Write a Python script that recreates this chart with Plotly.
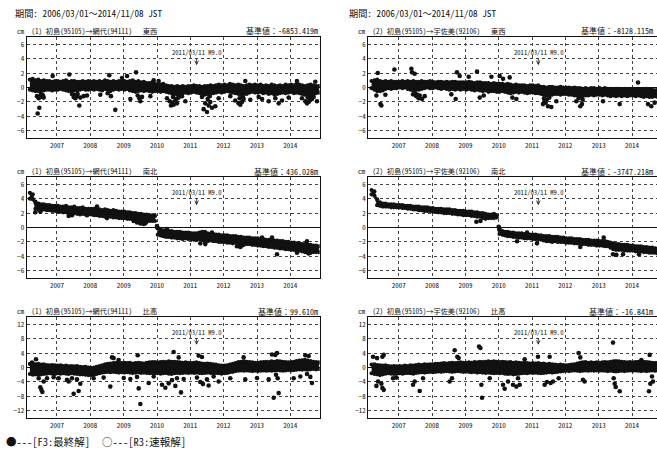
import pandas as pd
import plotly.graph_objects as go

# ---------------- data (cm) ----------------
MONTHS = pd.date_range("2006-03-01", "2014-11-01", freq="MS") + pd.Timedelta(days=9)

# (1) 初島→網代  東西
EW1_HI = [1.1, 1.2, 1.0, 1.1, 0.9, 1.0, 0.9, 0.9, 0.8, 0.9,
          0.9, 0.8, 0.9, 1.0, 0.8, 0.9, 0.9, 0.8, 0.8, 0.9, 0.8, 0.9,
          0.8, 0.9, 0.8, 0.9, 0.8, 1.0, 0.9, 0.8, 0.9, 0.8, 0.9, 0.8,
          0.9, 0.8, 0.9, 1.0, 0.8, 0.9, 0.7, 0.8, 0.6, 0.6, 0.7, 0.5,
          0.4, 0.4, 0.5, 0.3, 0.2, 0.2, 0.1, 0.2, 0.1, 0.2, 0.1, 0.2,
          0.2, 0.3, 0.2, 0.2, 0.1, 0.2, 0.2, 0.3, 0.2, 0.3, 0.4, 0.3,
          0.4, 0.3, 0.5, 0.4, 0.3, 0.4, 0.3, 0.2, 0.3, 0.4, 0.3, 0.4,
          0.3, 0.4, 0.2, 0.3, 0.2, 0.4, 0.3, 0.2, 0.3, 0.2, 0.4, 0.3,
          0.4, 0.3, 0.5, 0.4, 0.3, 0.2, 0.3, 0.4, 0.3, 0.2, 0.2]
EW1_LO = [-0.3, -0.4, -0.5, -0.5, -0.4, -0.4, -0.3, -0.3, -0.4, -0.3,
          -0.3, -0.2, -0.3, -0.4, -0.5, -0.5, -0.4, -0.4, -0.3, -0.2, -0.3, -0.3,
          -0.2, -0.3, -0.2, -0.3, -0.4, -0.2, -0.3, -0.5, -0.3, -0.2, -0.3, -0.2,
          -0.3, -0.2, -0.4, -0.5, -0.6, -0.5, -0.4, -0.5, -0.4, -0.5, -0.6, -0.5,
          -0.5, -0.6, -0.5, -0.6, -0.7, -0.8, -0.9, -1.0, -0.9, -0.8, -0.7, -0.8,
          -0.7, -0.6, -0.7, -0.8, -0.9, -1.0, -0.9, -0.9, -0.8, -0.7, -0.6, -0.7,
          -0.6, -0.5, -0.6, -0.7, -0.8, -0.9, -1.0, -0.9, -0.9, -0.7, -0.6, -0.7,
          -0.7, -0.6, -0.8, -0.7, -0.9, -0.8, -1.0, -0.9, -0.8, -0.7, -0.8, -0.7,
          -0.6, -0.8, -0.7, -0.8, -0.9, -1.0, -1.1, -1.0, -0.9, -0.8, -0.7]
EW1_OUT_YR = [2006.42, 2006.47, 2006.40, 2006.45, 2006.50, 2006.55, 2006.60, 2006.87, 2007.37, 2007.45,
              2007.50, 2007.55, 2007.60, 2007.67, 2007.70, 2007.80, 2007.90, 2008.30, 2008.52, 2008.57,
              2008.62, 2008.75, 2008.95, 2009.10, 2009.20, 2009.37, 2009.42, 2009.47, 2009.50, 2009.55,
              2009.80, 2009.90, 2010.05, 2010.30, 2010.38, 2010.42, 2010.45, 2010.50, 2010.55, 2010.60,
              2010.65, 2010.75, 2010.85, 2011.35, 2011.40, 2011.45, 2011.50, 2011.55, 2011.60, 2011.65,
              2011.75, 2011.85, 2012.20, 2012.35, 2012.45, 2012.50, 2012.55, 2012.60, 2012.65, 2012.80,
              2013.05, 2013.15, 2013.35, 2013.55, 2013.65, 2013.75, 2013.95, 2014.20, 2014.35, 2014.45,
              2014.50, 2014.55, 2014.60, 2014.70, 2014.75, 2014.80,
              2006.52, 2006.58, 2007.52, 2007.62, 2010.48, 2010.58, 2010.68, 2011.52, 2011.58, 2012.48,
              2012.58, 2014.52, 2014.58, 2014.65]
EW1_OUT_CM = [-3.6, -2.8, -1.2, -1.5, -1.3, -1.0, -1.4, 1.6, 1.8, -0.9,
              -1.3, -1.5, -1.2, -2.5, -1.4, -1.2, -1.1, -1.0, -0.8, 1.7,
              -1.2, -3.1, 1.3, 1.6, -1.6, 2.1, -1.1, -1.5, -1.9, -1.3,
              -1.2, 1.0, 0.9, -1.5, -1.9, -2.5, -2.1, -2.4, -1.8, -2.2,
              -1.4, -1.2, -1.9, -1.3, -3.0, -2.2, -3.4, -2.5, -2.0, -2.8,
              -2.6, -1.5, -1.2, -1.8, -2.2, -2.4, -2.0, -1.6, 0.9, -1.7,
              -1.3, -1.6, -1.9, -1.5, -2.2, -1.8, -1.4, 0.9, -1.5, -1.9,
              -2.2, -2.0, -1.7, -1.3, 0.8, -1.9,
              -0.9, -1.1, -1.0, -0.9, -1.3, -1.6, -1.1, -1.6, -1.2, -1.5,
              -1.3, -1.4, -1.2, -1.6]

# (1) 初島→網代  南北
NS1_HI = [4.8, 4.6, 3.6, 3.3, 3.2, 3.2, 3.1, 3.1, 3.0, 3.0,
          3.0, 2.9, 2.9, 3.0, 2.8, 2.8, 2.9, 2.7, 2.7, 2.8, 2.6, 2.6,
          2.6, 2.6, 2.5, 2.5, 2.4, 2.5, 2.4, 2.3, 2.4, 2.3, 2.2, 2.2,
          2.2, 2.1, 2.1, 2.0, 2.0, 1.9, 1.9, 1.8, 1.8, 1.7, 1.7, 1.6,
          -0.1, -0.3, -0.4, -0.4, -0.5, -0.5, -0.6, -0.6, -0.6, -0.7, -0.7, -0.7,
          -0.8, -0.8, -0.8, -0.7, -0.6, -0.6, -0.8, -0.9, -0.9, -1.0, -1.0, -1.1,
          -1.1, -1.1, -1.2, -1.2, -1.2, -1.3, -1.3, -1.4, -1.4, -1.4, -1.5, -1.5,
          -1.5, -1.6, -1.6, -1.7, -1.7, -1.7, -1.8, -1.8, -1.9, -1.9, -2.0, -2.0,
          -2.1, -2.1, -2.2, -2.2, -2.3, -2.3, -2.4, -2.4, -2.5, -2.5, -2.6]
NS1_LO = [4.0, 3.9, 2.6, 2.5, 2.4, 2.5, 2.4, 2.4, 2.3, 2.3,
          2.2, 2.2, 2.1, 2.1, 2.0, 1.9, 2.0, 1.9, 1.8, 1.9, 1.8, 1.8,
          1.8, 1.7, 1.7, 1.6, 1.6, 1.5, 1.6, 1.5, 1.4, 1.4, 1.3, 1.3,
          1.3, 1.2, 1.2, 1.1, 1.0, 1.0, 0.8, 0.7, 0.8, 0.9, 0.9, 0.9,
          -1.0, -1.1, -1.2, -1.3, -1.3, -1.4, -1.4, -1.5, -1.5, -1.6, -1.5, -1.6,
          -1.6, -1.7, -1.7, -1.6, -1.7, -2.0, -1.9, -1.8, -1.9, -1.9, -2.0, -2.0,
          -2.0, -2.1, -2.1, -2.2, -2.1, -2.3, -2.4, -2.4, -2.3, -2.3, -2.4, -2.4,
          -2.5, -2.5, -2.6, -2.6, -2.7, -2.7, -2.8, -2.8, -2.9, -2.9, -3.0, -3.0,
          -3.1, -3.1, -3.2, -3.2, -3.3, -3.4, -3.5, -3.3, -3.4, -3.4, -3.4]
NS1_OUT_YR = [2006.35, 2006.50, 2007.35, 2007.45, 2007.90, 2008.20, 2008.50, 2009.30, 2009.40, 2009.50,
              2009.60, 2009.65, 2010.00, 2010.02, 2010.30, 2011.30, 2011.45, 2011.65, 2012.40, 2012.50,
              2012.55, 2013.15, 2013.45, 2013.60, 2014.20, 2014.50, 2014.55, 2014.60]
NS1_OUT_CM = [2.1, 2.2, 1.6, 1.7, 1.7, 2.9, 1.3, 0.9, 0.7, 0.55,
              0.5, 0.6, 0.2, -0.1, -0.2, -2.2, -2.3, -0.7, -2.6, -2.7,
              -2.5, -1.4, -1.4, -3.7, -3.5, -1.9, -3.6, -3.5]

# (1) 初島→網代  比高
UD1_HI = [1.0, 1.2, 0.9, 1.0, 0.8, 0.9, 0.7, 0.6, 0.7, 0.6,
          0.5, 0.6, 0.4, 0.5, 0.3, 0.4, 0.3, 0.4, 0.2, 0.1, 0.2, 0.0,
          -0.1, 0.0, 0.2, 0.4, 0.6, 0.9, 1.0, 1.1, 1.2, 1.3, 1.2, 1.2,
          1.3, 1.2, 1.3, 1.1, 1.2, 1.3, 1.2, 1.1, 1.3, 1.4, 1.5, 1.5,
          1.4, 1.5, 1.6, 1.5, 1.7, 1.6, 1.6, 1.5, 1.4, 1.3, 1.4, 1.3,
          1.2, 1.3, 1.4, 1.2, 1.1, 1.0, 1.1, 1.0, 0.9, 0.8, 0.6, 0.5,
          0.5, 0.6, 0.8, 1.0, 1.2, 1.5, 1.6, 1.7, 1.6, 1.5, 1.4, 1.3,
          1.3, 1.4, 1.5, 1.6, 1.5, 1.7, 1.6, 1.8, 1.7, 1.6, 1.5, 1.4,
          1.5, 1.6, 1.8, 1.9, 2.0, 2.1, 1.9, 1.8, 1.6, 1.5, 1.4]
UD1_LO = [-1.8, -2.0, -1.9, -2.0, -1.9, -1.8, -1.7, -1.6, -1.7, -1.8,
          -1.6, -1.7, -1.6, -1.7, -1.8, -1.6, -1.7, -1.8, -1.9, -1.9, -2.0, -2.1,
          -2.1, -2.0, -1.8, -1.6, -1.4, -1.3, -1.2, -1.3, -1.2, -1.3, -1.4, -1.3,
          -1.4, -1.3, -1.4, -1.5, -1.4, -1.3, -1.5, -1.4, -1.5, -1.6, -1.5, -1.6,
          -1.6, -1.7, -1.6, -1.5, -1.7, -1.8, -1.6, -1.5, -1.6, -1.5, -1.4, -1.5,
          -1.4, -1.5, -1.4, -1.5, -1.6, -1.5, -1.4, -1.5, -1.6, -1.5, -1.6, -1.7,
          -1.6, -1.5, -1.3, -1.2, -1.0, -0.9, -0.8, -0.9, -0.8, -0.9, -1.0, -0.9,
          -1.0, -0.9, -0.8, -0.9, -0.8, -0.9, -0.8, -0.7, -0.8, -0.9, -0.8, -0.7,
          -0.8, -0.7, -0.6, -0.5, -0.6, -0.5, -0.6, -0.5, -0.4, -0.5, -0.4]
UD1_OUT_YR = [2006.25, 2006.37, 2006.50, 2006.53, 2006.56, 2006.60, 2006.45, 2006.70, 2006.90, 2007.05,
              2007.30, 2007.35, 2007.45, 2007.50, 2007.65, 2007.70, 2007.60, 2008.10, 2008.40, 2008.60,
              2008.65, 2008.70, 2008.85, 2009.00, 2009.20, 2009.42, 2009.45, 2009.50, 2009.40, 2009.75,
              2009.90, 2010.15, 2010.25, 2010.35, 2010.45, 2010.50, 2010.55, 2010.60, 2010.65, 2010.72,
              2010.80, 2011.20, 2011.25, 2011.30, 2011.35, 2011.38, 2011.50, 2011.55, 2011.70, 2011.85,
              2012.20, 2012.60, 2012.65, 2013.00, 2013.35, 2013.45, 2013.50, 2013.55, 2013.60, 2013.65,
              2013.57, 2013.62, 2014.10, 2014.30, 2014.45, 2014.55, 2014.60, 2014.65, 2014.50]
UD1_OUT_CM = [1.4, 2.3, -5.5, -6.2, -6.8, -3.9, -3.0, -3.0, -2.7, -3.0,
              -3.4, -3.9, -3.0, -7.3, -6.5, -4.5, -3.3, -3.0, -2.8, -5.3,
              2.8, 2.6, 2.1, -2.9, -3.2, 3.4, -5.8, -10.1, -2.6, -4.3,
              -2.5, -4.8, -5.6, -4.4, -3.5, 4.3, -5.1, -3.0, 2.8, -6.9,
              -3.2, -2.8, 3.3, -4.0, 2.9, -4.6, -3.3, -5.0, -2.5, -3.9,
              -3.0, 2.8, -3.3, -2.9, -3.3, 3.6, -8.4, 3.5, 4.0, -7.1,
              -2.0, -3.0, -3.0, -2.5, 3.4, 3.2, -2.6, -4.3, -1.8]

# (2) 初島→宇佐美  東西
EW2_HI = [0.9, 1.0, 1.1, 0.9, 0.8, 0.9, 0.8, 0.9, 0.8, 0.8,
          0.8, 0.9, 0.8, 0.9, 0.8, 0.9, 0.8, 0.8, 0.9, 0.8, 0.8, 0.9,
          0.8, 0.7, 0.8, 0.8, 0.7, 0.8, 0.7, 0.8, 0.8, 0.7, 0.7, 0.7,
          0.7, 0.8, 0.7, 0.6, 0.7, 0.7, 0.6, 0.6, 0.6, 0.5, 0.6, 0.5,
          0.5, 0.5, 0.4, 0.5, 0.4, 0.3, 0.4, 0.3, 0.3, 0.3, 0.2, 0.3,
          0.3, 0.2, 0.3, 0.1, 0.1, 0.0, 0.1, 0.1, 0.0, 0.0, 0.1, 0.0,
          0.0, 0.0, -0.1, 0.0, -0.1, -0.1, -0.2, -0.1, -0.2, -0.1, -0.1, -0.2,
          -0.1, -0.2, -0.1, -0.2, -0.2, -0.3, -0.2, -0.2, -0.3, -0.2, -0.3, -0.3,
          -0.2, -0.3, -0.2, -0.3, -0.3, -0.2, -0.3, -0.3, -0.4, -0.3, -0.3]
EW2_LO = [-0.1, -0.3, -0.5, -0.5, -0.4, -0.2, -0.1, -0.2, -0.1, -0.1,
          0.0, -0.1, 0.0, -0.2, -0.3, -0.4, -0.3, -0.3, -0.2, -0.1, 0.0, -0.1,
          -0.1, 0.0, -0.1, -0.2, -0.1, -0.2, -0.3, -0.2, -0.3, -0.2, -0.3, -0.2,
          -0.3, -0.2, -0.3, -0.4, -0.3, -0.4, -0.5, -0.4, -0.6, -0.5, -0.5, -0.6,
          -0.6, -0.5, -0.6, -0.7, -0.8, -0.7, -0.6, -0.7, -0.6, -0.7, -0.8, -0.7,
          -0.7, -0.8, -0.8, -0.9, -1.0, -1.1, -1.0, -1.0, -0.9, -0.9, -1.0, -0.9,
          -0.9, -1.0, -1.0, -1.1, -1.1, -1.2, -1.2, -1.1, -1.1, -1.0, -1.1, -1.0,
          -1.0, -1.1, -1.0, -1.1, -1.2, -1.1, -1.2, -1.1, -1.2, -1.1, -1.2, -1.1,
          -1.1, -1.2, -1.1, -1.2, -1.3, -1.2, -1.3, -1.3, -1.2, -1.3, -1.2]
EW2_OUT_YR = [2006.33, 2006.37, 2006.45, 2006.48, 2006.60, 2006.87, 2007.38, 2007.40, 2007.48, 2007.43,
              2007.53, 2007.60, 2007.63, 2007.70, 2007.78, 2008.58, 2008.71, 2008.75, 2008.83, 2009.10,
              2009.35, 2009.43, 2009.55, 2009.78, 2010.03, 2010.13, 2010.33, 2010.41, 2010.53, 2011.33,
              2011.38, 2011.41, 2011.48, 2011.58, 2011.73, 2012.33, 2012.45, 2012.50, 2013.13, 2013.63,
              2014.18, 2014.48, 2014.58, 2014.68,
              2007.50, 2007.56, 2011.36, 2011.44, 2011.52, 2012.40, 2012.52]
EW2_OUT_CM = [-1.1, 2.0, -2.3, -2.5, -1.0, 2.5, 2.6, 2.1, 1.9, -0.95,
              -1.2, -1.5, -1.1, -1.6, -1.2, -0.95, -1.6, 2.1, 1.6, 1.5,
              2.2, -1.4, -1.1, 1.5, 1.6, 1.2, 1.4, -1.4, -1.6, -2.3,
              -1.8, -2.1, -2.6, -2.7, -1.9, -1.9, -2.6, -2.3, -1.9, -2.3,
              0.7, -2.3, -2.6, -2.1,
              -0.8, -1.0, -1.5, -1.7, -1.4, -1.5, -1.7]

# (2) 初島→宇佐美  南北
NS2_HI = [5.2, 5.0, 3.9, 3.5, 3.3, 3.3, 3.2, 3.2, 3.2, 3.1,
          3.1, 3.1, 3.0, 3.0, 3.0, 2.9, 2.9, 2.9, 2.8, 2.8, 2.8, 2.7,
          2.7, 2.6, 2.6, 2.6, 2.5, 2.5, 2.5, 2.4, 2.4, 2.3, 2.3, 2.3,
          2.2, 2.2, 2.2, 2.1, 2.1, 2.0, 2.0, 1.9, 1.8, 1.8, 1.9, 1.7,
          -0.2, -0.5, -0.6, -0.6, -0.7, -0.7, -0.8, -0.8, -0.8, -0.9, -0.9, -1.0,
          -1.0, -1.0, -1.1, -1.1, -1.2, -1.2, -1.2, -1.3, -1.3, -1.3, -1.4, -1.4,
          -1.5, -1.5, -1.5, -1.6, -1.6, -1.6, -1.7, -1.7, -1.7, -1.8, -1.8, -1.8,
          -1.9, -1.9, -1.9, -2.0, -2.1, -2.2, -2.3, -2.3, -2.4, -2.4, -2.4, -2.5,
          -2.5, -2.6, -2.6, -2.6, -2.7, -2.7, -2.8, -2.8, -2.9, -2.9, -3.0]
NS2_LO = [4.6, 4.4, 3.1, 3.0, 2.9, 2.9, 2.9, 2.8, 2.8, 2.8,
          2.8, 2.7, 2.7, 2.6, 2.6, 2.5, 2.5, 2.4, 2.4, 2.3, 2.3, 2.3,
          2.2, 2.2, 2.1, 2.1, 2.0, 2.0, 2.0, 1.9, 1.9, 1.8, 1.8, 1.7,
          1.7, 1.7, 1.6, 1.6, 1.5, 1.5, 1.3, 1.2, 1.3, 1.3, 1.3, 1.4,
          -0.9, -1.0, -1.1, -1.2, -1.2, -1.3, -1.3, -1.4, -1.4, -1.5, -1.5, -1.5,
          -1.6, -1.6, -1.6, -1.7, -1.8, -1.9, -1.9, -2.0, -1.9, -2.0, -2.0, -2.0,
          -2.1, -2.1, -2.1, -2.2, -2.2, -2.3, -2.3, -2.3, -2.4, -2.4, -2.4, -2.5,
          -2.5, -2.5, -2.6, -2.6, -2.8, -3.0, -3.1, -3.1, -3.1, -3.2, -3.2, -3.2,
          -3.2, -3.3, -3.3, -3.3, -3.4, -3.4, -3.5, -3.5, -3.5, -3.6, -3.6]
NS2_OUT_YR = [2009.33, 2009.45, 2010.00, 2010.02, 2010.55, 2010.85, 2011.15, 2012.45, 2013.15, 2013.43,
              2013.53, 2013.73, 2014.21]
NS2_OUT_CM = [0.8, 0.9, 0.1, -0.3, -1.9, -0.7, -2.2, -2.7, -1.4, -3.7,
              -3.8, -3.7, -3.7]

# (2) 初島→宇佐美  比高
UD2_HI = [0.8, 0.9, 0.7, 0.6, 0.5, 0.6, 0.4, 0.3, 0.4, 0.3,
          0.4, 0.3, 0.5, 0.4, 0.6, 0.5, 0.7, 0.8, 0.7, 0.9, 0.8, 0.9,
          0.9, 1.0, 1.0, 1.1, 1.2, 1.1, 1.2, 1.3, 1.2, 1.3, 1.4, 1.3,
          1.3, 1.4, 1.3, 1.5, 1.4, 1.6, 1.5, 1.6, 1.7, 1.6, 1.7, 1.6,
          1.5, 1.6, 1.5, 1.4, 1.5, 1.3, 1.4, 1.3, 1.2, 1.3, 1.2, 1.1,
          1.2, 1.1, 1.2, 1.0, 1.1, 0.9, 1.0, 0.9, 0.8, 0.7, 0.8, 0.7,
          0.6, 0.7, 0.8, 0.9, 1.1, 1.3, 1.4, 1.5, 1.3, 1.4, 1.3, 1.4,
          1.3, 1.4, 1.5, 1.4, 1.6, 1.7, 1.8, 1.7, 1.6, 1.5, 1.4, 1.5,
          1.4, 1.5, 1.6, 1.5, 1.6, 1.5, 1.4, 1.3, 1.2, 1.3, 1.2]
UD2_LO = [-1.6, -1.8, -1.9, -2.1, -1.9, -1.7, -1.6, -1.7, -1.8, -1.7,
          -1.6, -1.7, -1.6, -1.5, -1.6, -1.7, -1.5, -1.4, -1.3, -1.4, -1.3, -1.2,
          -1.3, -1.2, -1.1, -1.2, -1.1, -1.0, -1.1, -1.2, -1.1, -1.0, -1.1, -1.2,
          -1.1, -1.2, -1.3, -1.2, -1.4, -1.3, -1.4, -1.5, -1.4, -1.5, -1.6, -1.5,
          -1.6, -1.5, -1.7, -1.8, -1.7, -1.9, -1.8, -1.7, -1.6, -1.5, -1.6, -1.4,
          -1.5, -1.4, -1.5, -1.6, -1.5, -1.4, -1.3, -1.4, -1.3, -1.2, -1.1, -1.0,
          -0.9, -1.0, -0.9, -0.8, -0.9, -1.0, -0.9, -0.8, -0.9, -0.8, -0.9, -0.8,
          -0.9, -0.8, -0.9, -1.0, -0.9, -1.0, -1.1, -1.0, -0.9, -1.0, -0.9, -0.8,
          -0.9, -0.8, -0.9, -1.0, -0.9, -1.0, -0.9, -0.8, -0.9, -0.8, -0.7]
UD2_OUT_YR = [2006.23, 2006.35, 2006.51, 2006.55, 2006.33, 2006.38, 2006.48, 2006.51, 2006.55, 2006.83,
              2006.93, 2007.43, 2007.48, 2007.63, 2007.73, 2008.53, 2008.60, 2008.68, 2008.76, 2008.80,
              2009.41, 2009.45, 2009.48, 2009.50, 2009.73, 2010.13, 2010.18, 2010.28, 2010.43, 2010.53,
              2010.63, 2010.58, 2010.78, 2011.18, 2011.38, 2011.45, 2011.53, 2011.56, 2011.63, 2011.80,
              2012.40, 2012.45, 2012.53, 2012.58, 2013.43, 2013.45, 2013.48, 2013.51, 2013.63, 2014.28,
              2014.53, 2014.55, 2014.63, 2014.51, 2014.60]
UD2_OUT_CM = [3.0, 2.6, 3.0, 3.5, -5.1, -3.9, -4.5, -5.7, -6.2, -3.0,
              -2.8, -4.8, -3.9, -6.5, -3.0, -3.9, -3.0, 4.8, 3.0, 2.6,
              5.8, 5.4, -4.8, -8.4, -3.0, -4.8, -5.9, -3.9, -4.8, -5.3,
              -4.8, -3.0, 2.3, 3.0, -4.8, -4.0, 3.0, -4.3, -3.9, -3.0,
              4.0, 2.8, -3.4, -3.9, 6.9, -3.0, -4.5, -5.4, -6.6, 2.1,
              3.5, -4.5, -3.9, -6.6, -2.5]

TITLES = ["(1) 初島(95105)→網代(94111)", "(2) 初島(95105)→宇佐美(92106)"]
COMPONENTS = ["東西", "南北", "比高"]
BASE_VALUES = [["-6853.419m", "-8128.115m"],
               ["436.028m", "-3747.218m"],
               ["99.610m", "-16.841m"]]
STEP_DATES = {"南北": "2010-01-01"}
PERIOD = "期間: 2006/03/01～2014/11/08 JST"
EQ_DATE = "2011-03-11"
EQ_LABEL = "2011/03/11 M9.0"
YEARS = list(range(2007, 2015))

PANELS = [
    [(EW1_HI, EW1_LO, EW1_OUT_YR, EW1_OUT_CM), (EW2_HI, EW2_LO, EW2_OUT_YR, EW2_OUT_CM)],
    [(NS1_HI, NS1_LO, NS1_OUT_YR, NS1_OUT_CM), (NS2_HI, NS2_LO, NS2_OUT_YR, NS2_OUT_CM)],
    [(UD1_HI, UD1_LO, UD1_OUT_YR, UD1_OUT_CM), (UD2_HI, UD2_LO, UD2_OUT_YR, UD2_OUT_CM)],
]

# ---------------- layout geometry ----------------
W, H = 657, 457
FONT = "Noto Sans Mono CJK JP, Noto Sans CJK JP, monospace"
INK = "#111111"
COL_X = [(26.7, 319.7), (368.4, 657.0)]
COL_RANGE = [("2006-02-03", "2014-11-19"), ("2006-02-03", "2014-10-02")]
BASE_RIGHT = [320.0, 655.0]
ROW_Y = [(37, 138), (177, 278), (317, 418)]
ROW_RANGE = [(-7, 7), (-7, 7), (-14, 14)]
ROW_DTICK = [2, 2, 4]
EQ_TIP = [3.1, 3.1, 6.3]


def yr2date(y):
    yr = int(y)
    return pd.Timestamp(yr, 1, 1) + pd.Timedelta(days=(y - yr) * 365.25)


fig = go.Figure()
annotations = []
NB = "\u00a0"

for r in range(3):
    for c in range(2):
        k = r * 2 + c + 1
        xa = "x" if k == 1 else f"x{k}"
        ya = "y" if k == 1 else f"y{k}"
        hi, lo, oyr, ocm = PANELS[r][c]
        comp = COMPONENTS[r]

        if comp in STEP_DATES:
            idx = int((MONTHS < pd.Timestamp(STEP_DATES[comp])).sum())
            segs = [(0, idx), (idx, len(MONTHS))]
        else:
            segs = [(0, len(MONTHS))]
        px, py = [], []
        for a, b in segs:
            d = list(MONTHS[a:b])
            px += d + d[::-1] + [None]
            py += list(hi[a:b]) + list(lo[a:b])[::-1] + [None]
        fig.add_trace(go.Scatter(x=px, y=py, mode="lines", fill="toself",
                                 fillcolor=INK, line=dict(color=INK, width=0.6),
                                 xaxis=xa, yaxis=ya, hoverinfo="skip",
                                 showlegend=False))
        fig.add_trace(go.Scatter(x=list(MONTHS) * 2, y=list(hi) + list(lo),
                                 mode="markers", marker=dict(size=4.2, color=INK),
                                 xaxis=xa, yaxis=ya, showlegend=False))
        fig.add_trace(go.Scatter(x=[yr2date(v) for v in oyr], y=ocm,
                                 mode="markers", marker=dict(size=4.6, color=INK),
                                 xaxis=xa, yaxis=ya, showlegend=False))

        x0, x1 = COL_X[c]
        y0, y1 = ROW_Y[r]
        common = dict(showline=True, linecolor=INK, linewidth=1.3, mirror=True,
                      showgrid=True, gridcolor="#444444", griddash="dot",
                      gridwidth=0.8, ticks="",
                      tickfont=dict(family=FONT, size=7, color=INK))
        fig.layout[("xaxis" if k == 1 else f"xaxis{k}")] = dict(
            domain=[x0 / W, x1 / W], range=list(COL_RANGE[c]), type="date",
            anchor=ya, tickmode="array",
            tickvals=[f"{y}-01-01" for y in YEARS], ticktext=[str(y) for y in YEARS],
            zeroline=False, ticklabelstandoff=0, **common)
        fig.layout[("yaxis" if k == 1 else f"yaxis{k}")] = dict(
            domain=[1 - y1 / H, 1 - y0 / H], range=list(ROW_RANGE[r]),
            anchor=xa, dtick=ROW_DTICK[r], tick0=0,
            zeroline=True, zerolinecolor=INK, zerolinewidth=1, **common)

        annotations.append(dict(
            xref="paper", yref="paper", x=(x0 - 12) / W, y=1 - (y0 - 6) / H,
            xanchor="left", yanchor="middle", showarrow=False,
            text="cm" + NB * 2 + TITLES[c] + NB * 3 + comp,
            font=dict(family=FONT, size=7.2, color=INK)))
        annotations.append(dict(
            xref="paper", yref="paper", x=BASE_RIGHT[c] / W, y=1 - (y0 - 6) / H,
            xanchor="right", yanchor="middle", showarrow=False,
            text="基準値：" + BASE_VALUES[r][c],
            font=dict(family=FONT, size=8, color=INK)))
        annotations.append(dict(
            xref=xa, yref=ya, x=EQ_DATE, y=EQ_TIP[r], ax=0, ay=-13,
            text=EQ_LABEL, showarrow=True, arrowhead=5, arrowsize=0.9,
            arrowwidth=0.8, arrowcolor=INK,
            font=dict(family=FONT, size=6.6, color=INK)))

for xp in (13, 346.7):
    annotations.append(dict(xref="paper", yref="paper", x=xp / W, y=1 - 13 / H,
                            xanchor="left", yanchor="middle", showarrow=False,
                            text=PERIOD, font=dict(family=FONT, size=9.2, color=INK)))
annotations.append(dict(xref="paper", yref="paper", x=4 / W, y=1 - 441 / H,
                        xanchor="left", yanchor="middle", showarrow=False,
                        text="●---[F3:最終解]", font=dict(family=FONT, size=10.5, color=INK)))
annotations.append(dict(xref="paper", yref="paper", x=100 / W, y=1 - 441 / H,
                        xanchor="left", yanchor="middle", showarrow=False,
                        text="○---[R3:速報解]", font=dict(family=FONT, size=10.5, color=INK)))

fig.update_layout(width=W, height=H, margin=dict(l=0, r=0, t=0, b=0),
                  paper_bgcolor="white", plot_bgcolor="white",
                  showlegend=False, annotations=annotations,
                  font=dict(family=FONT, color=INK))

fig.write_html("out.html", config={"displayModeBar": False},
               post_script="document.body.style.margin='0';document.body.style.overflow='hidden';")
